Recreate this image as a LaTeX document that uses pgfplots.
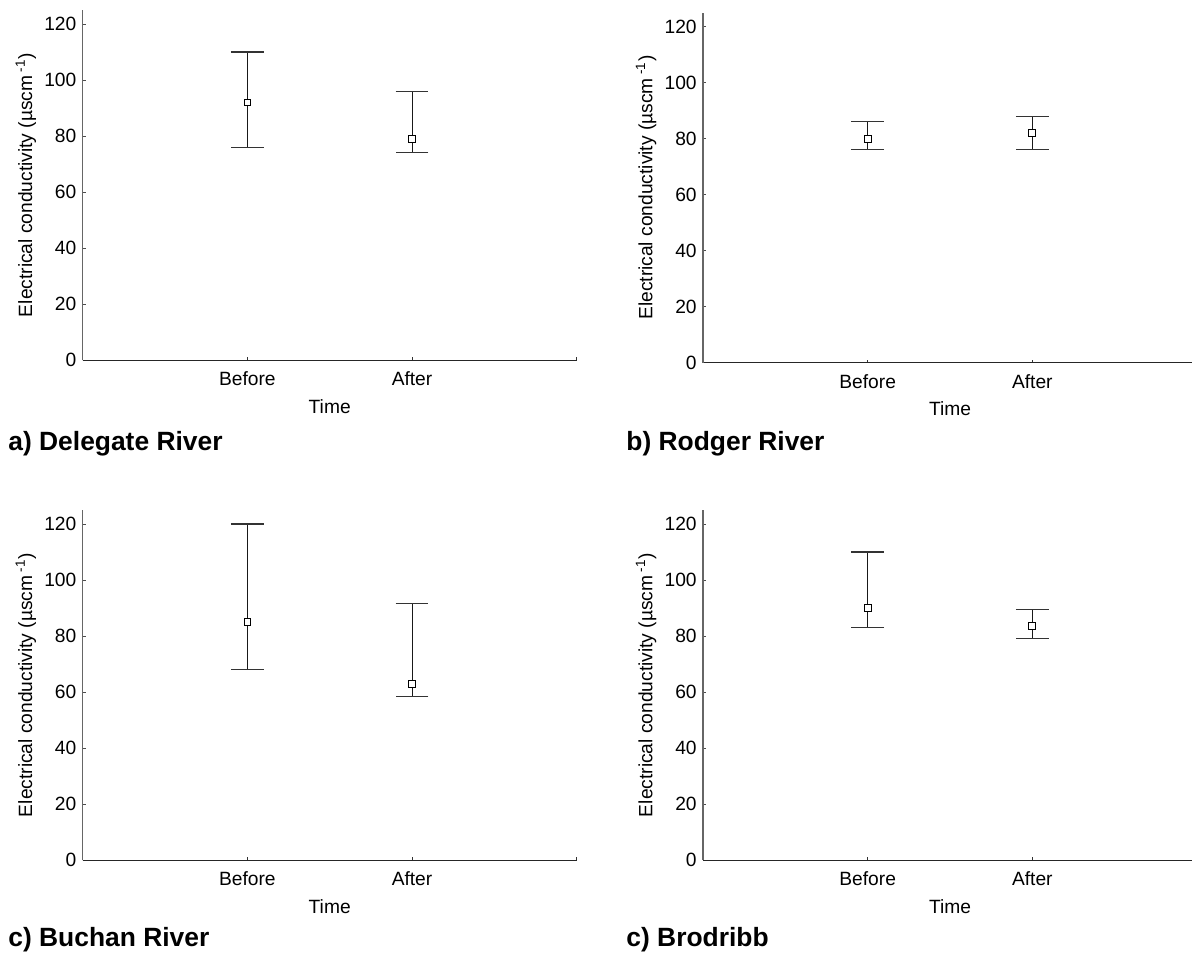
\documentclass[border=0pt]{standalone}
\usepackage{fontspec}
\setmainfont{Liberation Sans}
\usepackage{pgfplots}
\usepackage{pgfplotstable}
\pgfplotsset{compat=1.18}

% x y ep em  (mean, upper-mean, mean-lower)
\pgfplotstableread{
x y ep em
1 92 18 16
2 79 17 5
}\dataA
\pgfplotstableread{
x y ep em
1 80 6 4
2 82 6 6
}\dataB
\pgfplotstableread{
x y ep em
1 85 35 17
2 63 28.5 4.5
}\dataC
\pgfplotstableread{
x y ep em
1 90 20 7
2 83.5 6 4.5
}\dataD

\pgfplotsset{
  panel/.style={
    scale only axis, width=247pt, height=175pt,
    xmin=0, xmax=3, ymin=0, ymax=125,
    axis x line*=bottom, axis y line*=left,
    xtick={1,2,3}, xticklabels={Before,After,{}},
    ytick={0,20,...,120},
    tick align=inside, major tick length=1.4pt,
    x axis line style={black!85, line width=0.5pt},
    y axis line style={black!60, line width=0.55pt},
    xtick style={black!80, line width=0.45pt},
    ytick style={black!70, line width=0.45pt},
    /pgf/number format/assume math mode=true,
    ticklabel style={font=\fontsize{9.6}{11}\selectfont},
    label style={font=\fontsize{9.6}{11}\selectfont},
    xticklabel style={anchor=base, yshift=-12.7pt},
    yticklabel style={anchor=east, inner sep=0pt, xshift=-3pt},
    xlabel={Time},
    ylabel={Electrical conductivity (µscm\,\textsuperscript{-1})},
    xlabel style={at={(axis description cs:0.5,0)}, anchor=base, yshift=-26.6pt, inner sep=0pt},
    ylabel style={at={(axis description cs:-0.115,0.5)}, anchor=center, inner sep=0pt},
  },
  ebar/.style={
    black, only marks, mark=square*,
    mark options={fill=white, draw=black, line width=0.45pt, mark size=1.7pt},
    error bars/.cd, y dir=both, y explicit,
    error bar style={black!90, line width=0.45pt},
    error mark options={rotate=90, black!80, line width=0.6pt, mark size=8.2pt},
  },
}

\begin{document}
\begin{tikzpicture}
\path[use as bounding box] (0pt,0pt) rectangle (596pt,-476pt);

\begin{axis}[panel, at={(41.35pt,-180pt)}, anchor=south west]
\addplot[ebar] table[x=x, y=y, y error plus=ep, y error minus=em] {\dataA};
\end{axis}

\begin{axis}[panel, at={(351.5pt,-181.3pt)}, anchor=south west]
\addplot[ebar] table[x=x, y=y, y error plus=ep, y error minus=em] {\dataB};
\end{axis}

\begin{axis}[panel, at={(41.35pt,-430pt)}, anchor=south west]
\addplot[ebar] table[x=x, y=y, y error plus=ep, y error minus=em] {\dataC};
\end{axis}

\begin{axis}[panel, at={(351.5pt,-430pt)}, anchor=south west]
\addplot[ebar] table[x=x, y=y, y error plus=ep, y error minus=em] {\dataD};
\end{axis}

\node[anchor=base west, inner sep=0pt, font=\bfseries\fontsize{13.2}{15}\selectfont] at (4pt,-225pt) {a) Delegate River};
\node[anchor=base west, inner sep=0pt, font=\bfseries\fontsize{13.2}{15}\selectfont] at (313pt,-225pt) {b) Rodger River};
\node[anchor=base west, inner sep=0pt, font=\bfseries\fontsize{13.2}{15}\selectfont] at (4pt,-473.3pt) {c) Buchan River};
\node[anchor=base west, inner sep=0pt, font=\bfseries\fontsize{13.2}{15}\selectfont] at (313pt,-473.3pt) {c) Brodribb};
\end{tikzpicture}
\end{document}
